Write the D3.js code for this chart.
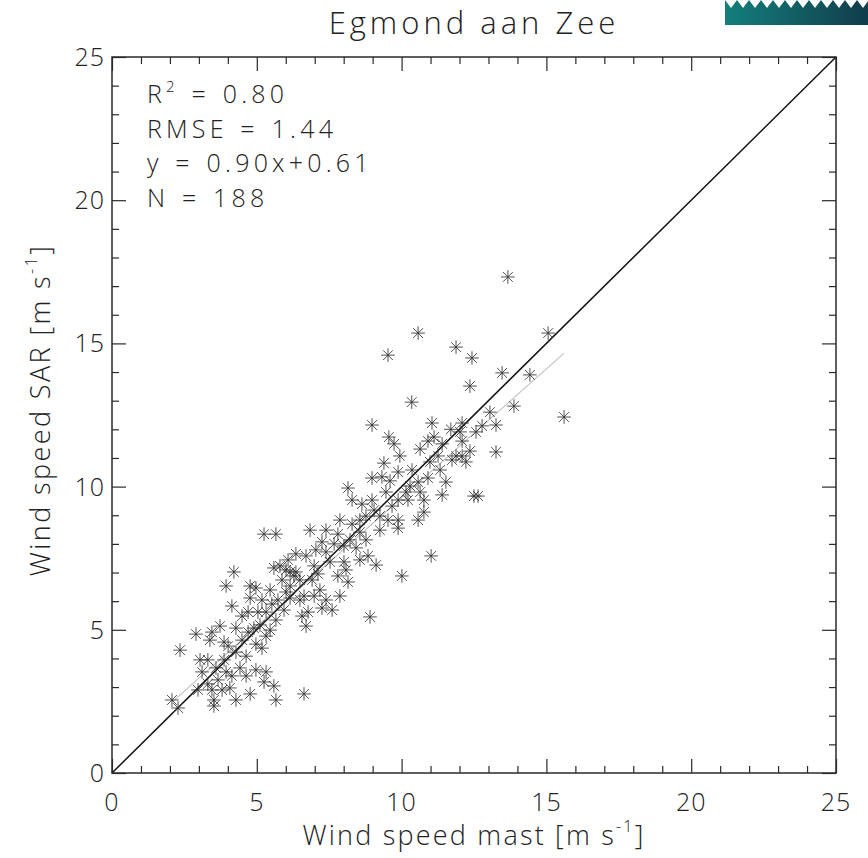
<!DOCTYPE html>
<html>
<head>
<meta charset="utf-8">
<script src="https://cdn.jsdelivr.net/npm/d3@7"></script>
<style>
  html, body { margin: 0; padding: 0; background: #fff; }
  svg { display: block; }
  text { font-family: "Open Sans", "DejaVu Sans", sans-serif; font-weight: 300; fill: #222; }
</style>
</head>
<body>
<svg id="chart" width="868" height="858"></svg>
<script>
// ---- data ----
const title = "Egmond aan Zee";
const xTickLabels = ["0", "5", "10", "15", "20", "25"];
const yTickLabels = ["0", "5", "10", "15", "20", "25"];
const statLines = [
  {main: "R", sup: "2", rest: " = 0.80"},
  {main: "RMSE = 1.44", sup: "", rest: ""},
  {main: "y = 0.90x+0.61", sup: "", rest: ""},
  {main: "N = 188", sup: "", rest: ""}
];
const fitSlope = 0.90;
const fitIntercept = 0.61;

const mastSpeed = [
 13.67,10.57,9.53,11.88,12.43,15.06,13.47,14.43,13.88,15.61,
 10.35,12.36,13.05,8.98,12.09,11.05,9.56,9.74,11.12,12.78,
 13.26,12.57,12.02,12.09,12.36,12.09,11.88,12.22,13.26,10.91,
 11.40,10.64,11.26,10.98,9.94,9.39,9.88,8.98,9.32,10.57,
 10.91,10.15,10.64,11.40,12.50,12.64,11.53,9.88,10.22,8.15,
 8.29,8.63,9.05,9.25,10.77,10.57,9.53,9.88,10.77,8.77,
 8.29,7.87,7.39,7.80,6.84,5.66,5.25,7.67,8.01,8.43,
 7.25,8.84,9.12,9.88,8.56,6.35,6.70,6.08,5.80,5.59,
 6.98,7.53,8.01,8.08,7.80,10.01,11.02,6.91,6.49,6.15,
 5.87,6.35,5.46,4.97,4.21,3.94,4.77,5.18,6.15,6.63,
 7.18,7.25,6.77,7.60,8.91,6.70,5.52,5.04,4.14,4.49,
 4.70,5.11,5.46,5.32,4.70,4.49,4.28,3.73,3.45,2.90,
 3.38,4.01,4.28,4.97,4.63,3.87,3.31,3.04,3.11,3.59,
 3.94,4.14,3.66,4.42,4.97,5.32,5.25,3.31,3.45,3.80,
 4.07,3.52,4.28,4.77,5.59,5.66,3.52,2.35,2.07,2.28,
 6.63,6.15,6.01,6.49,6.98,7.39,7.87,8.15,7.11,7.39,
 8.22,8.56,8.77,9.25,9.67,9.46,10.36,11.33,11.74,10.29,
 4.90,5.66,5.94,5.18,3.87,4.63,2.97,5.32,4.77,6.56,
 6.01,8.56,8.98,7.04,6.28,5.73,9.60,11.70
];
const sarSpeed = [
 17.32,15.36,14.59,14.87,14.49,15.36,13.97,13.90,12.81,12.43,
 12.95,13.51,12.60,12.15,12.22,12.22,11.73,11.49,11.73,12.12,
 12.15,11.91,11.91,11.59,11.24,11.07,11.07,10.86,11.21,11.59,
 11.49,11.31,11.07,10.86,11.07,10.82,10.51,10.30,10.34,10.16,
 10.30,9.81,9.81,9.71,9.67,9.67,10.16,9.53,9.53,9.95,
 9.53,9.39,9.18,8.97,9.11,8.83,8.83,8.55,9.53,8.97,
 8.69,8.83,8.48,8.34,8.48,8.34,8.34,8.00,7.93,7.86,
 8.07,7.58,7.26,8.83,8.41,7.65,7.58,7.44,7.23,7.16,
 7.23,7.37,7.37,7.09,6.88,6.88,7.58,6.74,6.74,6.53,
 6.74,7.02,6.39,6.46,7.02,6.53,6.11,6.04,6.11,6.18,
 6.39,5.76,5.62,5.69,5.45,5.13,5.90,5.62,5.83,5.48,
 5.62,5.17,4.99,4.78,4.92,4.64,5.06,5.13,4.92,4.85,
 4.64,4.43,4.22,4.50,4.08,3.95,3.95,3.95,3.53,3.67,
 3.53,3.39,3.25,3.67,3.60,3.53,3.18,3.11,2.90,2.90,
 2.97,2.55,2.55,2.76,3.04,2.55,2.34,4.29,2.55,2.27,
 2.76,7.02,6.32,6.04,6.18,6.04,6.18,6.67,6.95,7.72,
 8.14,7.44,8.14,8.48,9.32,9.81,10.58,10.58,10.93,10.02,
 5.06,5.34,5.69,4.36,4.57,3.39,2.90,5.62,6.53,5.48,
 7.09,8.83,9.53,7.79,6.88,6.04,10.20,12.00
];

// ---- layout ----
const svg = d3.select("#chart");
const L = 112, R = 836, T = 57, B = 773;
const x = d3.scaleLinear().domain([0, 25]).range([L, R]);
const y = d3.scaleLinear().domain([0, 25]).range([B, T]);
const ink = "#2a2a2a";

// logo in the top-right corner
const defs = svg.append("defs");
const grad = defs.append("linearGradient").attr("id", "logoGrad")
  .attr("x1", "0").attr("x2", "1").attr("y1", "0").attr("y2", "0");
grad.append("stop").attr("offset", "0").attr("stop-color", "#137f7b");
grad.append("stop").attr("offset", "1").attr("stop-color", "#113c4c");
svg.append("rect").attr("x", 725).attr("y", 0).attr("width", 143).attr("height", 25)
  .attr("fill", "url(#logoGrad)");
let zig = "M725,0";
for (let i = 0; i < 12; i++) {
  const x0 = 725 + i * 12;
  zig += ` L${x0 + 6},8 L${x0 + 12},0`;
}
zig += " Z";
svg.append("path").attr("d", zig).attr("fill", "#ffffff");

// title
svg.append("text").attr("x", 474).attr("y", 34).attr("text-anchor", "middle")
  .style("font-size", "31px").style("letter-spacing", "4px").text(title);

// regression line (grey) and 1:1 line
const xmin = d3.min(mastSpeed), xmax = d3.max(mastSpeed);
svg.append("line")
  .attr("x1", x(xmin)).attr("y1", y(fitSlope * xmin + fitIntercept))
  .attr("x2", x(xmax)).attr("y2", y(fitSlope * xmax + fitIntercept))
  .attr("stroke", "#c4c4c4").attr("stroke-width", 1.2);
svg.append("line")
  .attr("x1", x(0)).attr("y1", y(0)).attr("x2", x(25)).attr("y2", y(25))
  .attr("stroke", "#111").attr("stroke-width", 1.5);

// asterisk markers
const r = 6.8, d = r * 0.72;
const star = `M${-r},0H${r}M0,${-r}V${r}M${-d},${-d}L${d},${d}M${-d},${d}L${d},${-d}`;
svg.append("g").selectAll("path").data(mastSpeed.map((v, i) => [v, sarSpeed[i]]))
  .join("path")
  .attr("transform", p => `translate(${x(p[0])},${y(p[1])})`)
  .attr("d", star)
  .attr("fill", "none").attr("stroke", "#333").attr("stroke-width", 1).attr("stroke-opacity", 0.85);

// axes: major + minor ticks on all four sides, pointing inward
const major = d3.range(0, 26, 5), minor = d3.range(0, 26, 1).filter(v => v % 5 !== 0);
function addAxis(gen, tr, vals, size) {
  const g = svg.append("g").attr("transform", tr)
    .call(gen.tickValues(vals).tickSize(size).tickFormat(""));
  g.select(".domain").remove();
  g.selectAll(".tick line").attr("stroke", ink).attr("stroke-width", 1.2);
  return g;
}
addAxis(d3.axisBottom(x), `translate(0,${B})`, major, -14);
addAxis(d3.axisBottom(x), `translate(0,${B})`, minor, -7);
addAxis(d3.axisTop(x), `translate(0,${T})`, major, -14);
addAxis(d3.axisTop(x), `translate(0,${T})`, minor, -7);
addAxis(d3.axisLeft(y), `translate(${L},0)`, major, -14);
addAxis(d3.axisLeft(y), `translate(${L},0)`, minor, -7);
addAxis(d3.axisRight(y), `translate(${R},0)`, major, -14);
addAxis(d3.axisRight(y), `translate(${R},0)`, minor, -7);

// frame
svg.append("rect").attr("x", L).attr("y", T).attr("width", R - L).attr("height", B - T)
  .attr("fill", "none").attr("stroke", ink).attr("stroke-width", 1.5);

// tick labels
svg.append("g").selectAll("text").data(major).join("text")
  .attr("x", v => x(v)).attr("y", 811).attr("text-anchor", "middle")
  .style("font-size", "25px").style("letter-spacing", "1px").text((v, i) => xTickLabels[i]);
svg.append("g").selectAll("text").data(major).join("text")
  .attr("x", 105).attr("y", v => y(v) + 9).attr("text-anchor", "end")
  .style("font-size", "25px").style("letter-spacing", "1px").text((v, i) => yTickLabels[i]);

// axis titles
const xt = svg.append("text").attr("x", 474).attr("y", 845).attr("text-anchor", "middle")
  .style("font-size", "27px").style("letter-spacing", "2.2px");
xt.append("tspan").text("Wind speed mast [m s");
xt.append("tspan").attr("dy", -13).style("font-size", "16px").text("-1");
xt.append("tspan").attr("dy", 13).text("]");

const yt = svg.append("text").attr("transform", `translate(50,410) rotate(-90)`)
  .attr("text-anchor", "middle").style("font-size", "27px").style("letter-spacing", "2.4px");
yt.append("tspan").text("Wind speed SAR [m s");
yt.append("tspan").attr("dy", -13).style("font-size", "16px").text("-1");
yt.append("tspan").attr("dy", 13).text("]");

// statistics text
const baselines = [103, 138, 172, 207];
statLines.forEach((s, i) => {
  const t = svg.append("text").attr("x", 147).attr("y", baselines[i])
    .style("font-size", "25px").style("letter-spacing", "4.2px").style("word-spacing", "2px");
  t.append("tspan").text(s.main);
  if (s.sup) {
    t.append("tspan").attr("dy", -11).style("font-size", "15px").text(s.sup);
    t.append("tspan").attr("dy", 11).text(s.rest);
  }
});
</script>
</body>
</html>
